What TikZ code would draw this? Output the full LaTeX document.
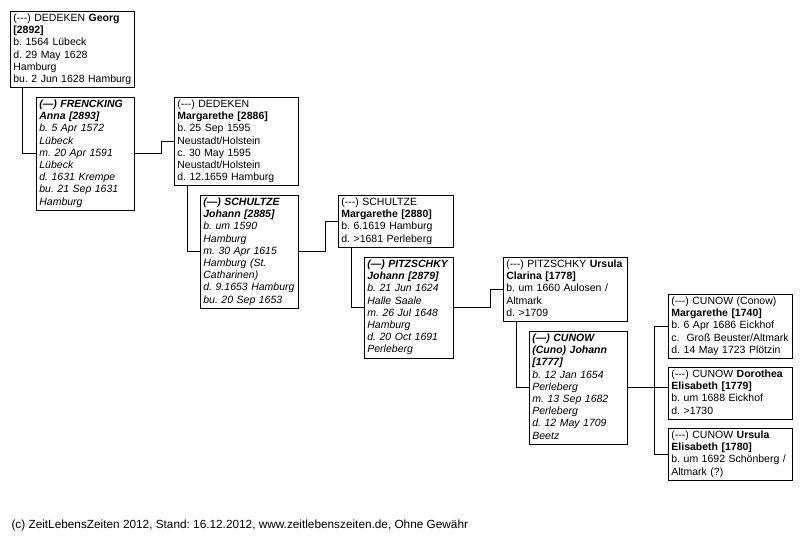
\documentclass[tikz,border=0pt]{standalone}
\usepackage{fontspec}
\setmainfont{Liberation Sans}
\usetikzlibrary{positioning}
\frenchspacing

\begin{document}
\begin{tikzpicture}[
  x=1pt,y=-1pt,
  person/.style={draw=black,line width=0.8pt,fill=white,anchor=north west,
    inner xsep=3pt,inner ysep=1.5pt,align=left,
    font=\fontsize{10.5}{12.2}\selectfont,
    execute at begin node=\strut,execute at end node=\strut},
  wide/.style={person,text width=118pt},
  narrow/.style={person,text width=92pt,font=\fontsize{10.5}{12.2}\selectfont\itshape},
  link/.style={line width=0.8pt,black},
]
\useasboundingbox (0,0) rectangle (808,536);

\node[wide] (georg) at (10,11)
  {(-{}-{}-) DEDEKEN \textbf{Georg}\\\textbf{[2892]}\\b. 1564 Lübeck\\d. 29 May 1628\\Hamburg\\bu. 2 Jun 1628 Hamburg};
\node[narrow] (frencking) at (36,97)
  {\textbf{(---) FRENCKING}\\\textbf{Anna [2893]}\\b. 5 Apr 1572\\Lübeck\\m. 20 Apr 1591\\Lübeck\\d. 1631 Krempe\\bu. 21 Sep 1631\\Hamburg};
\node[wide] (dedekenm) at (174,97)
  {(-{}-{}-) DEDEKEN\\\textbf{Margarethe [2886]}\\b. 25 Sep 1595\\Neustadt/Holstein\\c. 30 May 1595\\Neustadt/Holstein\\d. 12.1659 Hamburg};
\node[narrow] (schultzej) at (200,195)
  {\textbf{(---) SCHULTZE}\\\textbf{Johann [2885]}\\b. um 1590\\Hamburg\\m. 30 Apr 1615\\Hamburg (St.\\Catharinen)\\d. 9.1653 Hamburg\\bu. 20 Sep 1653};
\node[wide,text width=109pt] (schultzem) at (338,195)
  {(-{}-{}-) SCHULTZE\\\textbf{Margarethe [2880]}\\b. 6.1619 Hamburg\\d. >1681 Perleberg};
\node[narrow,text width=83pt] (pitzschkyj) at (364,257)
  {\textbf{(---) PITZSCHKY}\\\textbf{Johann [2879]}\\b. 21 Jun 1624\\Halle Saale\\m. 26 Jul 1648\\Hamburg\\d. 20 Oct 1691\\Perleberg};
\node[wide] (pitzschkyu) at (503,257)
  {(-{}-{}-) PITZSCHKY \textbf{Ursula}\\\textbf{Clarina [1778]}\\b. um 1660 Aulosen /\\Altmark\\d. >1709};
\node[narrow] (cunowj) at (529,331)
  {\textbf{(---) CUNOW}\\\textbf{(Cuno) Johann}\\\textbf{[1777]}\\b. 12 Jan 1654\\Perleberg\\m. 13 Sep 1682\\Perleberg\\d. 12 May 1709\\Beetz};
\node[wide] (cunowm) at (668,294)
  {(-{}-{}-) CUNOW (Conow)\\\textbf{Margarethe [1740]}\\b. 6 Apr 1686 Eickhof\\c.\ \ Groß Beuster/Altmark\\d. 14 May 1723 Plötzin};
\node[wide] (dorothea) at (668,367)
  {(-{}-{}-) CUNOW \textbf{Dorothea}\\\textbf{Elisabeth [1779]}\\b. um 1688 Eickhof\\d. >1730};
\node[wide] (ursulae) at (668,428)
  {(-{}-{}-) CUNOW \textbf{Ursula}\\\textbf{Elisabeth [1780]}\\b. um 1692 Schönberg /\\Altmark (?)};

\draw[link] ([xshift=12pt]georg.south west) |- (frencking.west);
\draw[link] (frencking.east) -- ++(27,0) |- (dedekenm.west);
\draw[link] ([xshift=13pt]dedekenm.south west) |- (schultzej.west);
\draw[link] (schultzej.east) -- ++(27,0) |- (schultzem.west);
\draw[link] ([xshift=13pt]schultzem.south west) |- (pitzschkyj.west);
\draw[link] (pitzschkyj.east) -- ++(37,0) |- (pitzschkyu.west);
\draw[link] ([xshift=13pt]pitzschkyu.south west) |- (cunowj.west);

\coordinate (fork) at ([xshift=27pt]cunowj.east);
\draw[link] (cunowj.east) -- (cunowj.east -| dorothea.west);
\draw[link] (cunowm.west) -| (fork) |- (ursulae.west);

\node[anchor=west,font=\fontsize{11.8}{13}\selectfont] (footer) at (8,525)
  {(c) ZeitLebensZeiten 2012, Stand: 16.12.2012, www.zeitlebenszeiten.de, Ohne Gewähr};
\end{tikzpicture}
\end{document}
